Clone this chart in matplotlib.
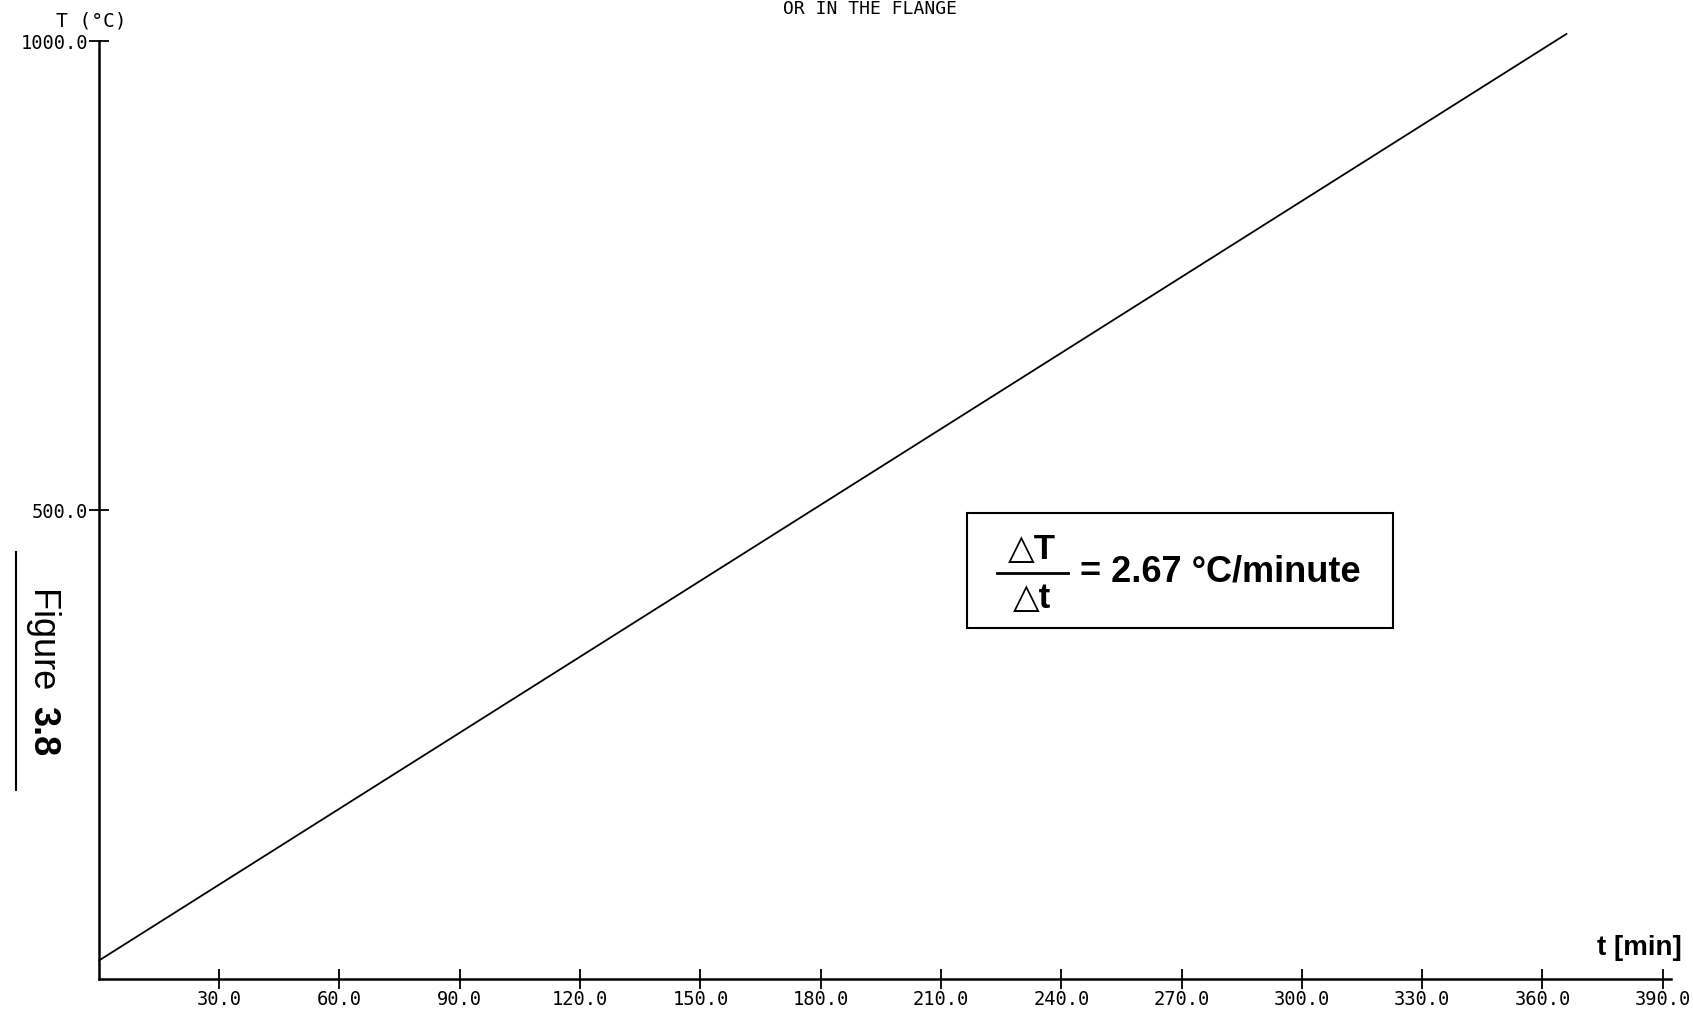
import matplotlib
matplotlib.use("Agg")
import matplotlib.pyplot as plt
from matplotlib.lines import Line2D

# heating ramp: start and end of the programmed run
time_min = [0.0, 366.0]
temp_c = [20.0, 1008.0]

x_ticks = [30, 60, 90, 120, 150, 180, 210, 240, 270, 300, 330, 360, 390]
y_ticks = [500, 1000]
rate_text = "2.67"

fig = plt.figure(figsize=(16.93, 10.09), dpi=100)
ax = fig.add_axes([0.0584, 0.0294, 0.9285, 0.9296])

ax.plot(time_min, temp_c, color="black", lw=1.3, solid_capstyle="round", clip_on=False)

ax.set_xlim(0, 392)
ax.set_ylim(0, 1000)
for s in ["top", "right"]:
    ax.spines[s].set_visible(False)
for s in ["left", "bottom"]:
    ax.spines[s].set_linewidth(1.8)

mono = "DejaVu Sans Mono"
ax.set_xticks(x_ticks)
ax.set_xticklabels([f"{v:.1f}" for v in x_ticks], family=mono, fontsize=13.5)
ax.set_yticks(y_ticks)
ax.set_yticklabels([f"{v:.1f}" for v in y_ticks], family=mono, fontsize=13.5)
ax.tick_params(axis="x", direction="inout", length=14, width=1.3, pad=1)
ax.tick_params(axis="y", direction="inout", length=14, width=1.3, pad=1)

# axis captions
fig.text(0.054, 0.979, "T (°C)", family=mono, fontsize=14, ha="center", va="center")
fig.text(0.9935, 0.06, "t [min]", family="Liberation Sans", fontweight="bold",
         fontsize=20, ha="right", va="center")
fig.text(0.514, 1.0, "OR IN THE FLANGE", family=mono, fontsize=13,
         ha="center", va="top")

# rate annotation box
box_x0, box_y0 = 967 / 1693, 1 - 628 / 1009
box_w, box_h = (1393 - 967) / 1693, (628 - 513) / 1009
fig.patches.append(plt.Rectangle((box_x0, box_y0), box_w, box_h, transform=fig.transFigure,
                                 fill=False, edgecolor="black", lw=1.5))
fam = ["Liberation Sans", "DejaVu Sans"]
fx = box_x0 + 0.0385
fig.text(fx, box_y0 + box_h * 0.68, "△T", family=fam, fontweight="bold", fontsize=25,
         ha="center", va="center")
fig.text(fx, box_y0 + box_h * 0.26, "△t", family=fam, fontweight="bold", fontsize=25,
         ha="center", va="center")
fig.lines.append(Line2D([fx - 0.021, fx + 0.021], [box_y0 + box_h * 0.48] * 2,
                        transform=fig.transFigure, color="black", lw=2))
fig.text(fx + 0.028, box_y0 + box_h * 0.49, f"= {rate_text} °C/minute", family=fam,
         fontweight="bold", fontsize=26, ha="left", va="center")

# figure caption along the left margin
fig.text(0.0255, 0.418, "Figure ", family="Liberation Sans", fontsize=26, rotation=-90,
         ha="center", va="top")
fig.text(0.0255, 0.30, "3.8", family="Liberation Sans", fontweight="bold", fontsize=26,
         rotation=-90, ha="center", va="top")
fig.lines.append(Line2D([0.0095, 0.0095], [0.217, 0.453], transform=fig.transFigure,
                        color="black", lw=1.5))

fig.savefig("out.png", dpi=100)
